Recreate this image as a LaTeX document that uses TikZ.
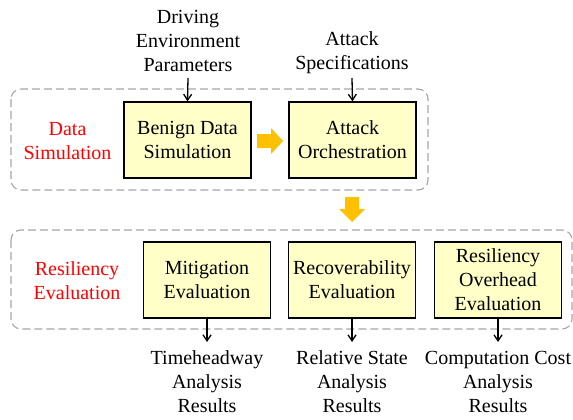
\documentclass[tikz,border=0pt]{standalone}
\usepackage{fontspec}
\setmainfont{Liberation Serif}
\usetikzlibrary{arrows.meta}
\definecolor{boxfill}{HTML}{FFFFC8}
\definecolor{gold}{HTML}{FFC000}
\definecolor{dashgray}{HTML}{A6A6A6}
\begin{document}
\begin{tikzpicture}[x=1pt,y=-1pt,
  every node/.style={font=\fontsize{20}{24}\selectfont, align=center, inner sep=0pt},
  procbox/.style={draw=black, line width=1.3pt, fill=boxfill, minimum width=127pt, minimum height=76pt},
  group/.style={draw=dashgray, dash pattern=on 8pt off 4pt, line width=1.1pt, rounded corners=10pt},
  grouplabel/.style={text=red},
  flow/.style={-{Straight Barb[length=6pt,width=8pt,line width=1.3pt]}, line width=1.3pt},
  bigarrow/.style={fill=gold, draw=none}
]
\useasboundingbox (0,0) rectangle (573,420);
% groups
\draw[group] (11,89) rectangle (428,190);
\draw[group] (11,230) rectangle (572,329);
% group labels
\node[grouplabel] (lds) at (67.5,141) {Data\\Simulation};
\node[grouplabel] (lre) at (77,281) {Resiliency\\Evaluation};
% top row boxes
\node[procbox] (benign) at (187.5,140) {Benign Data\\Simulation};
\node[procbox] (attack) at (352.5,140) {Attack\\Orchestration};
% bottom row boxes
\node[procbox] (mit) at (207,280) {Mitigation\\Evaluation};
\node[procbox] (rec) at (352,280) {Recoverability\\Evaluation};
\node[procbox] (ovh) at (498,280) {Resiliency\\Overhead\\Evaluation};
% inputs
\node (drv) at (188,41) {Driving\\Environment\\Parameters};
\node (spec) at (352,53) {Attack\\Specifications};
% outputs
\node (o1) at (207,382) {Timeheadway\\Analysis\\Results};
\node (o2) at (352,382) {Relative State\\Analysis\\Results};
\node (o3) at (498,382) {Computation Cost\\Analysis\\Results};
% connectors
\coordinate (drvE) at (188,78);
\coordinate (specE) at (352,78);
\draw[flow] (drvE) -- (benign.north);
\draw[flow] (specE) -- (attack.north);
\coordinate (o1E) at (207,342);
\coordinate (o2E) at (352,342);
\coordinate (o3E) at (498,342);
\draw[flow] (mit.south) -- (o1E);
\draw[flow] (rec.south) -- (o2E);
\draw[flow] (ovh.south) -- (o3E);
% big gold arrows
\fill[bigarrow] (257,134) -- (271,134) -- (271,128) -- (283,141) -- (271,154) -- (271,148) -- (257,148) -- cycle;
\fill[bigarrow] (345,197) -- (359,197) -- (359,209) -- (365,209) -- (352,222) -- (339,209) -- (345,209) -- cycle;
\end{tikzpicture}
\end{document}
